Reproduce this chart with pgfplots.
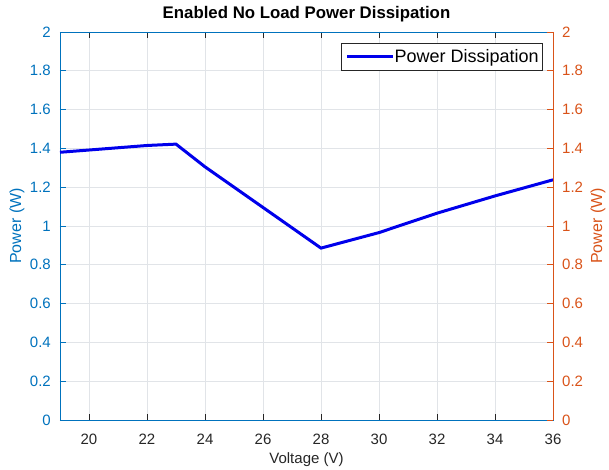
\documentclass[border=0pt]{standalone}
\usepackage{fontspec}
\setmainfont{Liberation Sans}
\usepackage{pgfplots}
\pgfplotsset{compat=1.18}
\definecolor{mblue}{RGB}{0,114,189}
\definecolor{morange}{RGB}{217,83,25}
\definecolor{mgray}{RGB}{38,38,38}
\definecolor{mgrid}{RGB}{225,228,232}
\begin{document}
\begin{tikzpicture}
\pgfplotsset{
  common/.style={
    scale only axis, width=493pt, height=388pt,
    xmin=19, xmax=36, ymin=0, ymax=2,
    ytick={0,0.2,0.4,0.6,0.8,1,1.2,1.4,1.6,1.8,2},
    yticklabels={0,0.2,0.4,0.6,0.8,1,1.2,1.4,1.6,1.8,2},
    tick align=inside, major tick length=6pt,
    ticklabel style={font=\fontsize{15}{18}\selectfont},
    /pgf/number format/assume math mode=true,
  }
}
\begin{axis}[common,
  xtick={20,22,...,36},
  xticklabels={20,22,24,26,28,30,32,34,36},
  ytick pos=left,
  grid=major, grid style={mgrid, line width=0.6pt},
  axis line style={mgray, line width=0.6pt},
  y axis line style={mblue},
  xtick style={mgray, line width=0.6pt},
  ytick style={mblue, line width=0.6pt},
  yticklabel style={mblue, anchor=east, inner xsep=0pt, xshift=-9pt},
  xticklabel style={mgray, anchor=base, inner ysep=0pt, yshift=-24pt},
  ylabel={Power (W)},
  ylabel style={mblue, font=\fontsize{16}{19}\selectfont, at={([xshift=-43pt]axis description cs:0,0.5)}, anchor=center},
  xlabel={Voltage (V)},
  xlabel style={mgray, font=\fontsize{15}{18}\selectfont, at={(axis description cs:0.5,0)}, anchor=base, inner ysep=0pt, yshift=-43pt},
  title={\bfseries Enabled No Load Power Dissipation},
  title style={font=\fontsize{16.8}{20}\selectfont, at={(axis description cs:0.5,1)}, anchor=base, inner ysep=0pt, yshift=7.5pt},
  legend style={at={(1,1)}, anchor=north east, xshift=-10pt, yshift=-11pt,
    draw=mgray, line width=0.6pt,
    font=\fontsize{18}{21}\selectfont, inner xsep=4pt, inner ysep=6pt,
    nodes={inner sep=0pt},
    /tikz/every even column/.append style={column sep=3pt}},
  legend cell align=left,
  legend image code/.code={\draw[#1, line width=3pt] (0pt,0pt) -- (46pt,0pt);},
  extra description/.code={
    \path (0,0) ++(-60pt,-50pt);
    \path (1,1) ++(56pt,32pt);
  },
]
\addplot[color={rgb,255:red,0;green,0;blue,235}, line width=3pt] coordinates {
(19,1.38) (22,1.415) (23,1.422) (24,1.305) (28,0.886) (30,0.966) (32,1.066) (34,1.155) (36,1.238)
};
\addlegendentry{Power Dissipation}
\end{axis}
\begin{axis}[common,
  axis y line*=right, axis x line=none,
  y axis line style={morange, line width=0.6pt},
  ytick style={morange, line width=0.6pt},
  yticklabel style={morange, anchor=west, inner xsep=0pt, xshift=9pt},
  ylabel={Power (W)},
  ylabel style={morange, font=\fontsize{16}{19}\selectfont, at={([xshift=45pt]axis description cs:1,0.5)}, anchor=center},
]
\end{axis}
\end{tikzpicture}
\end{document}
